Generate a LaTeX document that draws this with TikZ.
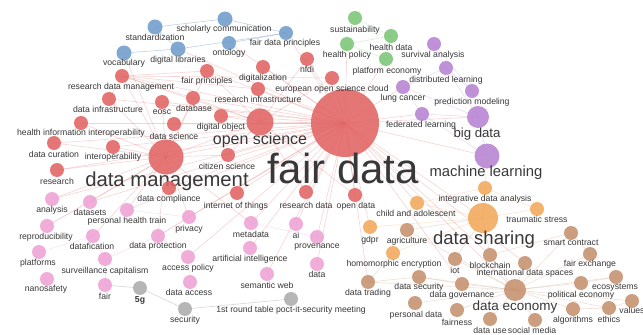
\documentclass[tikz,border=0pt]{standalone}
\usepackage{fontspec}
\setmainfont{Liberation Sans}
\pgfdeclarelayer{bg}
\pgfsetlayers{bg,main}
\definecolor{cred}{HTML}{E26464}
\definecolor{cblue}{HTML}{6F9DCB}
\definecolor{cgreen}{HTML}{7CC676}
\definecolor{cpurple}{HTML}{B784D2}
\definecolor{cpink}{HTML}{EEA2D4}
\definecolor{cgray}{HTML}{ADADAD}
\definecolor{corange}{HTML}{F2A95A}
\definecolor{cbrown}{HTML}{C6916F}
\definecolor{ctext}{HTML}{383838}
\newcommand\kfsm{\fontsize{6.5}{7}\selectfont}
\newcommand\kffd{\fontsize{31.5}{32}\selectfont}
\newcommand\kfdm{\fontsize{15.2}{16}\selectfont}
\newcommand\kfos{\fontsize{12}{13}\selectfont}
\newcommand\kfds{\fontsize{13.9}{14}\selectfont}
\newcommand\kfml{\fontsize{11.1}{12}\selectfont}
\newcommand\kfbig{\fontsize{9.9}{10}\selectfont}
\newcommand\kfde{\fontsize{10.1}{11}\selectfont}
\tikzset{
  kwc/.style={circle, inner sep=0pt, fill opacity=0.88, draw=none},
  kwl/.style={inner sep=0pt, text=ctext},
  edge/.style={line width=0.45pt, draw opacity=0.28},
}
\newcommand\kw[9]{%
  \node[kwc,fill=#5,minimum size=#4*1.5pt] (#1) at (#2,#3) {};
  \node[kwl,font=#9] (#1-l) at (#6,#7) {#8};}
\begin{document}
\begin{tikzpicture}[x=0.75pt,y=-0.75pt]
\useasboundingbox (0,0) rectangle (643,335);
% blue
\kw{stand}{155}{27}{7.5}{cblue}{155}{37}{standardization}{\kfsm}
\kw{schol}{225}{19}{7.5}{cblue}{224}{29}{scholarly communication}{\kfsm}
\kw{vocab}{124}{53}{7.5}{cblue}{124}{63}{vocabulary}{\kfsm}
\kw{diglib}{178}{49}{7.5}{cblue}{178}{60}{digital libraries}{\kfsm}
\kw{onto}{229}{43}{7}{cblue}{229}{53}{ontology}{\kfsm}
\kw{fdp}{286}{33}{7}{cblue}{285}{43}{fair data principles}{\kfsm}
% green
\kw{sust}{355}{18}{7}{cgreen}{355}{30}{sustainability}{\kfsm}
\kw{hdata}{391}{36}{7}{cgreen}{391}{47}{health data}{\kfsm}
\kw{hpol}{347}{44}{7}{cgreen}{347}{55}{health policy}{\kfsm}
\kw{peco}{386}{59}{7}{cgreen}{387}{71}{platform economy}{\kfsm}
% purple
\kw{surv}{434}{44}{7}{cpurple}{433}{55}{survival analysis}{\kfsm}
\kw{distl}{446}{68}{7}{cpurple}{446}{80}{distributed learning}{\kfsm}
\kw{lung}{403}{87}{7}{cpurple}{403}{98}{lung cancer}{\kfsm}
\kw{pred}{472}{91}{7}{cpurple}{472}{102}{prediction modeling}{\kfsm}
\kw{fedl}{422}{114}{7}{cpurple}{421}{125}{federated learning}{\kfsm}
\kw{bigd}{478}{117}{11}{cpurple}{477}{134}{big data}{\kfbig}
\kw{ml}{487}{156}{12.5}{cpurple}{486}{173}{machine learning}{\kfml}
% red
\kw{fd}{345}{123}{34}{cred}{343}{168}{fair data}{\kffd}
\kw{os}{260}{122}{13.5}{cred}{260}{140}{open science}{\kfos}
\kw{dm}{166}{157}{17.5}{cred}{167}{181}{data management}{\kfdm}
\kw{rdm}{122}{76}{7}{cred}{121}{87}{research data management}{\kfsm}
\kw{fprin}{207}{71}{7}{cred}{207}{81}{fair principles}{\kfsm}
\kw{digit}{263}{67}{7}{cred}{263}{78}{digitalization}{\kfsm}
\kw{nfdi}{307}{59}{7}{cred}{307}{69}{nfdi}{\kfsm}
\kw{eosccl}{332}{78}{7}{cred}{332}{89}{european open science cloud}{\kfsm}
\kw{rinf}{258}{89}{7}{cred}{258}{99}{research infrastructure}{\kfsm}
\kw{dbase}{193}{98}{7}{cred}{194}{108}{database}{\kfsm}
\kw{eosc}{162}{102}{7}{cred}{162}{112}{eosc}{\kfsm}
\kw{dinf}{109}{99}{7}{cred}{108}{109}{data infrastructure}{\kfsm}
\kw{dobj}{221}{116}{7}{cred}{221}{127}{digital object}{\kfsm}
\kw{dsci}{174}{124}{7}{cred}{174}{136}{data science}{\kfsm}
\kw{hii}{81}{123}{7}{cred}{81}{133}{health information interoperability}{\kfsm}
\kw{interop}{113}{147}{7}{cred}{113}{157}{interoperability}{\kfsm}
\kw{dcur}{54}{143}{7}{cred}{54}{154}{data curation}{\kfsm}
\kw{research}{57}{170}{7}{cred}{57}{181}{research}{\kfsm}
\kw{dcomp}{169}{188}{7}{cred}{169}{199}{data compliance}{\kfsm}
\kw{citsci}{228}{155}{7}{cred}{227}{166}{citizen science}{\kfsm}
\kw{iothings}{237}{193}{7}{cred}{236}{206}{internet of things}{\kfsm}
\kw{rdata}{306}{192}{7}{cred}{306}{205}{research data}{\kfsm}
\kw{odata}{355}{195}{7}{cred}{356}{206}{open data}{\kfsm}
% pink
\kw{analysis}{52}{199}{7}{cpink}{52}{210}{analysis}{\kfsm}
\kw{datasets}{90}{202}{7}{cpink}{90}{212}{datasets}{\kfsm}
\kw{pht}{127}{210}{7}{cpink}{127}{221}{personal health train}{\kfsm}
\kw{privacy}{189}{217}{7}{cpink}{189}{229}{privacy}{\kfsm}
\kw{repro}{47}{226}{7}{cpink}{46}{237}{reproducibility}{\kfsm}
\kw{dfic}{93}{236}{7}{cpink}{92}{246}{datafication}{\kfsm}
\kw{dprot}{158}{236}{7}{cpink}{158}{246}{data protection}{\kfsm}
\kw{platf}{39}{252}{7}{cpink}{38}{263}{platforms}{\kfsm}
\kw{survc}{105}{259}{7}{cpink}{105}{271}{surveillance capitalism}{\kfsm}
\kw{apol}{188}{257}{7}{cpink}{188}{268}{access policy}{\kfsm}
\kw{nano}{47}{279}{7}{cpink}{46}{289}{nanosafety}{\kfsm}
\kw{fair}{105}{285}{7}{cpink}{105}{296}{fair}{\kfsm}
\kw{dacc}{190}{282}{7}{cpink}{189}{292}{data access}{\kfsm}
\kw{meta}{251}{223}{7}{cpink}{251}{234}{metadata}{\kfsm}
\kw{ai}{296}{224}{7}{cpink}{296}{235}{ai}{\kfsm}
\kw{prov}{317}{237}{7}{cpink}{317}{247}{provenance}{\kfsm}
\kw{artint}{250}{248}{7}{cpink}{250}{259}{artificial intelligence}{\kfsm}
\kw{data}{317}{264}{7}{cpink}{317}{274}{data}{\kfsm}
\kw{semweb}{267}{274}{7}{cpink}{267}{285}{semantic web}{\kfsm}
% gray
\kw{fiveg}{140}{288}{7}{cgray}{140}{300}{\textbf{5g}}{\kfsm}
\kw{sec}{185}{309}{7}{cgray}{185}{320}{security}{\kfsm}
\kw{rt}{291}{299}{7}{cgray}{291}{310}{1st round table poct-it-security meeting}{\kfsm}
% orange
\kw{child}{417}{203}{7}{corange}{416}{213}{child and adolescent}{\kfsm}
\kw{ida}{485}{188}{7}{corange}{485}{199}{integrative data analysis}{\kfsm}
\kw{ds}{483}{218}{15}{corange}{484}{240}{data sharing}{\kfds}
\kw{trauma}{537}{209}{7}{corange}{537}{219}{traumatic stress}{\kfsm}
\kw{gdpr}{370}{227}{7}{corange}{370}{240}{gdpr}{\kfsm}
\kw{homo}{393}{253}{7}{corange}{394}{264}{homomorphic encryption}{\kfsm}
% brown
\kw{agri}{407}{230}{7}{cbrown}{407}{241}{agriculture}{\kfsm}
\kw{dtrade}{368}{282}{7}{cbrown}{368}{293}{data trading}{\kfsm}
\kw{dsec}{419}{277}{7}{cbrown}{419}{287}{data security}{\kfsm}
\kw{iot}{455}{259}{7}{cbrown}{455}{270}{iot}{\kfsm}
\kw{bchain}{490}{255}{7}{cbrown}{490}{265}{blockchain}{\kfsm}
\kw{ids}{525}{263}{7}{cbrown}{525}{273}{international data spaces}{\kfsm}
\kw{smart}{571}{233}{7}{cbrown}{571}{243}{smart contract}{\kfsm}
\kw{fex}{590}{254}{7}{cbrown}{590}{264}{fair exchange}{\kfsm}
\kw{eco}{616}{277}{7}{cbrown}{615}{288}{ecosystems}{\kfsm}
\kw{pole}{581}{283}{7}{cbrown}{581}{295}{political economy}{\kfsm}
\kw{de}{515}{290}{11}{cbrown}{515}{307}{data economy}{\kfde}
\kw{dgov}{462}{284}{7}{cbrown}{462}{295}{data governance}{\kfsm}
\kw{pdata}{415}{303}{7}{cbrown}{416}{315}{personal data}{\kfsm}
\kw{fness}{457}{310}{7}{cbrown}{457}{322}{fairness}{\kfsm}
\kw{duse}{490}{319}{7}{cbrown}{490}{330}{data use}{\kfsm}
\kw{smedia}{535}{320}{7}{cbrown}{532}{330}{social media}{\kfsm}
\kw{algo}{573}{309}{7}{cbrown}{573}{320}{algorithms}{\kfsm}
\kw{ethics}{609}{308}{7}{cbrown}{609}{319}{ethics}{\kfsm}
\kw{values}{632}{301}{7}{cbrown}{632}{310}{values}{\kfsm}
\begin{pgfonlayer}{bg}
\fill[white] (0,0) rectangle (643,335);
\foreach \b in {os,dm,rdm,fprin,digit,nfdi,eosccl,rinf,dbase,eosc,dinf,dobj,dsci,hii,interop,dcur,research,dcomp,citsci,iothings,rdata,odata,meta,ai,prov,data,privacy,dprot,pht,apol,artint,semweb,datasets,analysis,fdp,onto,diglib,hpol,peco,lung,fedl,bigd,ml,ds,child,gdpr,de,bchain,ids,dgov,dtrade}
  \draw[edge,cred] (fd.center) -- (\b.center);
\foreach \b in {rdm,dinf,hii,interop,dcur,research,dsci,eosc,dbase,fprin,dcomp,analysis,datasets,pht,repro,dfic,meta,os,citsci,privacy,dprot,vocab}
  \draw[edge,cred] (dm.center) -- (\b.center);
\foreach \b in {citsci,rinf,digit,eosccl,dobj,nfdi,rdata,odata,fprin,dbase,rdm}
  \draw[edge,cred] (os.center) -- (\b.center);
\foreach \b in {fprin,dbase,eosccl,rinf,dinf}
  \draw[edge,cred] (rdm.center) -- (\b.center);
\foreach \a/\b in {survc/fair,dfic/survc,dprot/privacy,apol/dacc,artint/meta,meta/prov,dfic/platf,survc/dprot,pht/privacy,dprot/apol,repro/datasets}
  \draw[edge,cpink] (\a.center) -- (\b.center);
\foreach \a/\b in {fiveg/sec,sec/rt,fiveg/fair}
  \draw[edge,cgray,draw opacity=0.5] (\a.center) -- (\b.center);
\foreach \a/\b in {schol/fdp,diglib/fdp,onto/fdp,stand/diglib,vocab/diglib,stand/schol}
  \draw[edge,cblue,draw opacity=0.45] (\a.center) -- (\b.center);
\foreach \a/\b in {sust/hdata,hpol/hdata,peco/hdata,hpol/peco}
  \draw[edge,cgreen] (\a.center) -- (\b.center);
\foreach \a/\b in {surv/distl,distl/pred,lung/fedl,pred/bigd,bigd/ml,fedl/bigd,distl/lung,surv/pred,fedl/ml,lung/bigd,distl/bigd}
  \draw[edge,cpurple] (\a.center) -- (\b.center);
\foreach \a/\b in {ds/child,ds/ida,ds/trauma,ds/gdpr,ds/homo,ida/trauma,ds/ml,child/ida}
  \draw[edge,corange] (\a.center) -- (\b.center);
\foreach \b in {agri,dtrade,dsec,iot,bchain,ids,smart,fex,eco,pole,dgov,pdata,fness,duse,smedia,algo,ethics,values}
  \draw[edge,cbrown] (de.center) -- (\b.center);
\foreach \a/\b in {ds/bchain,ds/iot,ds/agri,dtrade/dsec,dsec/dgov,bchain/smart,fex/smart,pole/eco,algo/ethics,ethics/values,homo/dtrade}
  \draw[edge,cbrown] (\a.center) -- (\b.center);
\end{pgfonlayer}
\end{tikzpicture}
\end{document}
